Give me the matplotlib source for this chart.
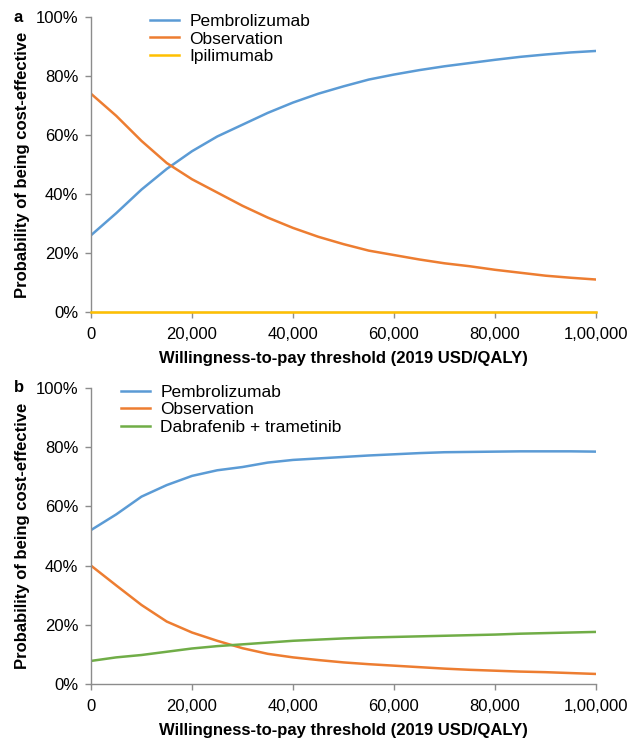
import numpy as np
import matplotlib
matplotlib.use("Agg")
import matplotlib.pyplot as plt
from matplotlib.ticker import FixedLocator, FixedFormatter

plt.rcParams['font.family'] = ['Liberation Sans', 'DejaVu Sans']

# willingness-to-pay grid (USD/QALY)
wtp = np.arange(0, 100001, 5000)

# panel a: probability of being cost-effective (%)
pembro_a = [26, 33.5, 41.5, 48.5, 54.5, 59.5, 63.5, 67.5, 71, 74, 76.5,
            78.8, 80.5, 82, 83.3, 84.4, 85.5, 86.5, 87.3, 88, 88.5]
obs_a = [74, 66.5, 58, 50.5, 45, 40.5, 36, 32, 28.5, 25.5, 23,
         20.8, 19.3, 17.8, 16.5, 15.5, 14.3, 13.3, 12.3, 11.6, 11]
ipi_a = [0] * 21

# panel b
pembro_b = [52, 57.3, 63.3, 67.2, 70.3, 72.2, 73.3, 74.8, 75.7, 76.2, 76.7,
            77.2, 77.6, 78, 78.3, 78.4, 78.5, 78.6, 78.6, 78.6, 78.5]
obs_b = [40, 33.3, 26.7, 21.1, 17.4, 14.6, 12.1, 10.2, 9.0, 8.1, 7.3,
         6.7, 6.2, 5.7, 5.2, 4.8, 4.5, 4.2, 4.0, 3.7, 3.4]
dab_b = [7.8, 9.0, 9.8, 10.9, 12.0, 12.8, 13.4, 14.0, 14.6, 15.0, 15.4,
         15.7, 15.9, 16.1, 16.3, 16.5, 16.7, 17.0, 17.2, 17.4, 17.6]

xticks = [0, 20000, 40000, 60000, 80000, 100000]
xticklabels = ["0", "20,000", "40,000", "60,000", "80,000", "1,00,000"]
yticks = [0, 20, 40, 60, 80, 100]
yticklabels = ["0%", "20%", "40%", "60%", "80%", "100%"]

BLUE = "#5B9BD5"
ORANGE = "#ED7D31"
YELLOW = "#FFC000"
GREEN = "#70AD47"
AXIS_GREY = "#8c8c8c"

fig = plt.figure(figsize=(6.31, 7.41), dpi=100)
ax_a = fig.add_axes([0.1442, 0.579, 0.8003, 0.398])
ax_b = fig.add_axes([0.1442, 0.0769, 0.8003, 0.3995])


def style_axes(ax):
    ax.set_xlim(0, 100000)
    ax.set_ylim(0, 100)
    for side in ("top", "right"):
        ax.spines[side].set_visible(False)
    for side in ("left", "bottom"):
        ax.spines[side].set_color(AXIS_GREY)
        ax.spines[side].set_linewidth(1.0)
    ax.xaxis.set_major_locator(FixedLocator(xticks))
    ax.xaxis.set_major_formatter(FixedFormatter(xticklabels))
    ax.yaxis.set_major_locator(FixedLocator(yticks))
    ax.yaxis.set_major_formatter(FixedFormatter(yticklabels))
    ax.tick_params(axis="both", colors=AXIS_GREY, labelcolor="black",
                   labelsize=12, length=4, width=1.0)
    ax.tick_params(axis="x", pad=7)
    ax.tick_params(axis="y", pad=5)
    ax.set_xlabel("Willingness-to-pay threshold (2019 USD/QALY)",
                  fontsize=12, fontweight="bold", labelpad=6)
    ax.set_ylabel("Probability of being cost-effective",
                  fontsize=12, fontweight="bold", labelpad=4)


def add_legend(ax, x_anchor):
    ax.legend(loc="upper left", bbox_to_anchor=(x_anchor, 1.035),
              frameon=False, fontsize=12.5, handlelength=1.65,
              handletextpad=0.6, labelspacing=0.15, borderaxespad=0)


lw = 1.8
ax_a.plot(wtp, pembro_a, color=BLUE, lw=lw, label="Pembrolizumab")
ax_a.plot(wtp, obs_a, color=ORANGE, lw=lw, label="Observation")
ax_a.plot(wtp, ipi_a, color=YELLOW, lw=lw, label="Ipilimumab",
          clip_on=False, zorder=3)
style_axes(ax_a)
add_legend(ax_a, 0.104)

ax_b.plot(wtp, pembro_b, color=BLUE, lw=lw, label="Pembrolizumab")
ax_b.plot(wtp, obs_b, color=ORANGE, lw=lw, label="Observation")
ax_b.plot(wtp, dab_b, color=GREEN, lw=lw, label="Dabrafenib + trametinib")
style_axes(ax_b)
add_legend(ax_b, 0.046)

fig.text(14 / 631, 1 - 17 / 741, "a", fontsize=12, fontweight="bold",
         ha="left", va="center")
fig.text(14 / 631, 1 - 388 / 741, "b", fontsize=12, fontweight="bold",
         ha="left", va="center")

fig.savefig("out.png", dpi=100)
